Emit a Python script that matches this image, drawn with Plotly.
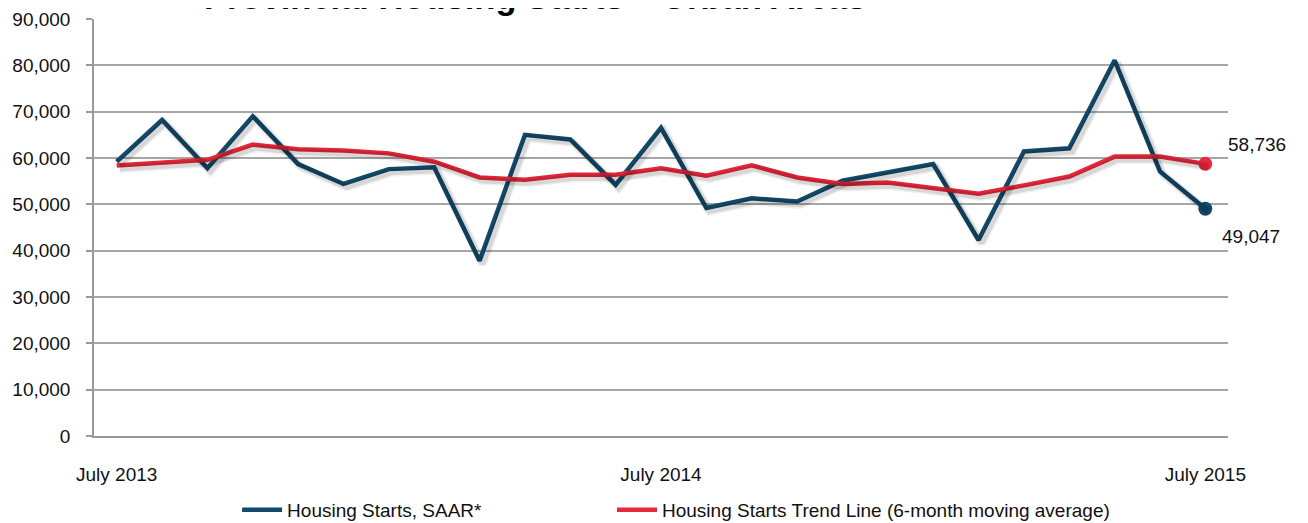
import plotly.graph_objects as go

months = ["Jul 2013", "Aug 2013", "Sep 2013", "Oct 2013", "Nov 2013", "Dec 2013",
          "Jan 2014", "Feb 2014", "Mar 2014", "Apr 2014", "May 2014", "Jun 2014",
          "Jul 2014", "Aug 2014", "Sep 2014", "Oct 2014", "Nov 2014", "Dec 2014",
          "Jan 2015", "Feb 2015", "Mar 2015", "Apr 2015", "May 2015", "Jun 2015",
          "Jul 2015"]
tick_vals = ["Jul 2013", "Jul 2014", "Jul 2015"]
tick_text = ["July 2013", "July 2014", "July 2015"]

starts_saar = [59200, 68200, 57800, 69000, 58700, 54400, 57600, 58000, 37800,
               65000, 64000, 54200, 66500, 49200, 51300, 50600, 55100, 56900,
               58700, 42300, 61400, 62100, 81100, 57100, 49047]
trend_6m = [58400, 59000, 59600, 62900, 61900, 61600, 61000, 59200, 55800,
            55300, 56400, 56400, 57800, 56200, 58400, 55800, 54400, 54700,
            53400, 52300, 54100, 56000, 60300, 60300, 58736]

BLUE = "#134A6A"
RED = "#E8283B"
FONT = "Arial, Liberation Sans, sans-serif"

fig = go.Figure()

# soft drop shadows on an overlaid, slightly offset axis pair
cat_px = 1134 / 25.0
dx = 3 / cat_px
dy = 3 * 90000 / 417.0
for series in (starts_saar, trend_6m):
    for w, a in ((9, 0.06), (6, 0.10)):
        fig.add_trace(go.Scatter(x=months, y=series, mode="lines", xaxis="x2", yaxis="y2",
                                 line=dict(color=f"rgba(0,0,0,{a})", width=w),
                                 showlegend=False, hoverinfo="skip"))

fig.add_trace(go.Scatter(x=months, y=starts_saar, mode="lines",
                         name="Housing Starts, SAAR*", legend="legend",
                         line=dict(color=BLUE, width=4.5)))
fig.add_trace(go.Scatter(x=months, y=trend_6m, mode="lines",
                         name="Housing Starts Trend Line (6-month moving average)",
                         legend="legend2",
                         line=dict(color=RED, width=4.5)))
# end markers
fig.add_trace(go.Scatter(x=months[-1:], y=starts_saar[-1:], mode="markers",
                         marker=dict(color=BLUE, size=14), showlegend=False))
fig.add_trace(go.Scatter(x=months[-1:], y=trend_6m[-1:], mode="markers",
                         marker=dict(color=RED, size=14), showlegend=False))

fig.add_annotation(x=months[-1], y=trend_6m[-1], xref="x", yref="y",
                   text=f"{trend_6m[-1]:,}", showarrow=False, xanchor="left",
                   xshift=21, yshift=19, font=dict(family=FONT, size=19, color="#111"))
fig.add_annotation(x=months[-1], y=starts_saar[-1], xref="x", yref="y",
                   text=f"{starts_saar[-1]:,}", showarrow=False, xanchor="left",
                   xshift=15, yshift=-28, font=dict(family=FONT, size=19, color="#111"))

fig.add_annotation(x=0.389, y=1, xref="paper", yref="paper", yanchor="middle",
                   yshift=22, text="<b>Provincial Housing Starts – Urban Areas</b>",
                   showarrow=False, font=dict(family=FONT, size=34.5, color="#000"))

leg_common = dict(orientation="h", yanchor="middle", xanchor="left", y=-0.177,
                  font=dict(family=FONT, size=19, color="#111"),
                  bgcolor="rgba(0,0,0,0)", itemwidth=40)

# the page body adds an 8px offset; margins compensate for it
fig.update_layout(
    width=1308, height=523,
    margin=dict(l=86, r=88, t=11, b=95, autoexpand=False),
    paper_bgcolor="white", plot_bgcolor="white",
    font=dict(family=FONT, size=19, color="#111"),
    showlegend=True,
    legend=dict(x=0.1262, **leg_common),
    legend2=dict(x=0.4568, **leg_common),
    xaxis=dict(type="category", categoryorder="array", categoryarray=months,
               range=[-0.5, 24.5], tickvals=tick_vals, ticktext=tick_text,
               showgrid=False, showline=True, linecolor="#999", linewidth=1.5,
               ticks="", ticklabelstandoff=20, zeroline=False, automargin=False,
               tickfont=dict(family=FONT, size=19, color="#111")),
    yaxis=dict(range=[0, 90000], dtick=10000, tickformat=",d",
               showgrid=True, gridcolor="#A6A6A6", gridwidth=1.5,
               showline=True, linecolor="#999", linewidth=1.5,
               ticks="outside", ticklen=6, tickcolor="#999", tickwidth=1.5,
               ticklabelstandoff=12, zeroline=False, automargin=False,
               tickfont=dict(family=FONT, size=19, color="#111")),
    xaxis2=dict(type="category", categoryorder="array", categoryarray=months,
                range=[-0.5 - dx, 24.5 - dx], overlaying="x", visible=False),
    yaxis2=dict(range=[0 + dy, 90000 + dy], overlaying="y", visible=False),
)

fig.write_html("out.html")
